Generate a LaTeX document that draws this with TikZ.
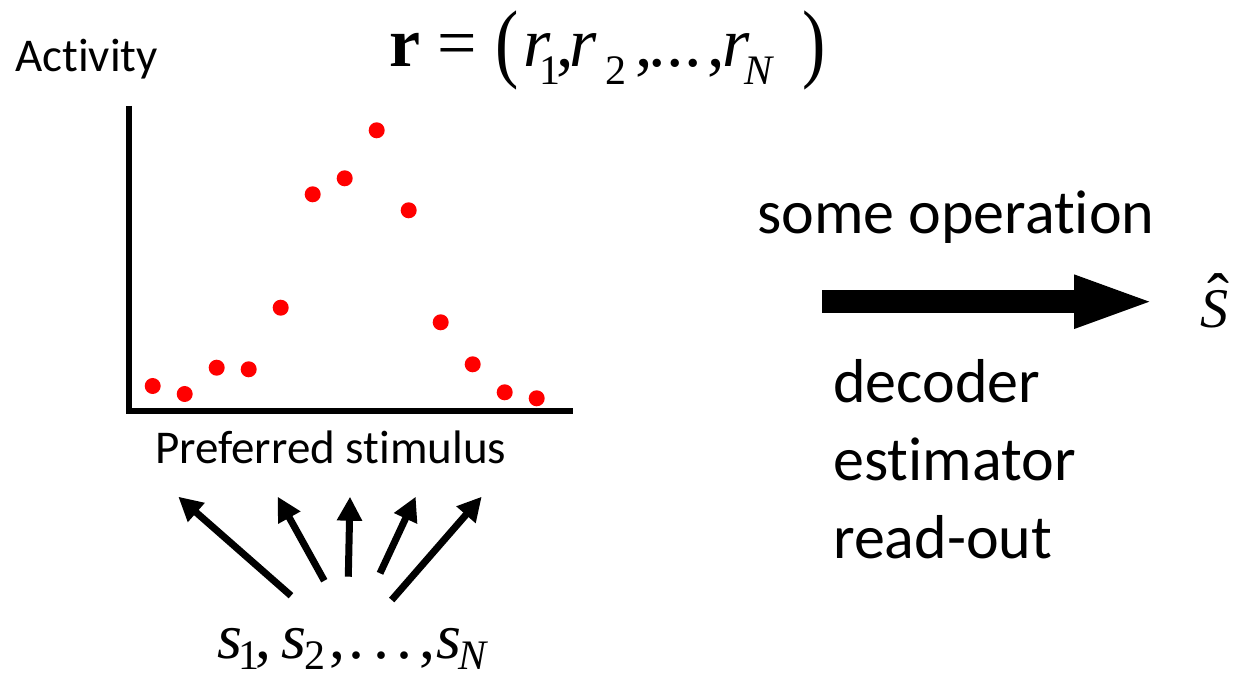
\documentclass[tikz,border=0pt]{standalone}
\usepackage{fontspec}
\usepackage{graphicx}
\setmainfont{Carlito}[Ligatures={NoCommon,NoContextual}]
\newfontfamily\tms{Liberation Serif}
\usetikzlibrary{arrows.meta}
\newcommand\pg[2]{\rlap{\hspace*{#1pt}#2}}
\newcommand\sbx[2]{\raisebox{-#1pt}{\fontsize{42}{42}\selectfont #2}}
\tikzset{
  lbl/.style={inner sep=0pt, anchor=base west, font=\fontsize{47}{47}\selectfont},
  big/.style={inner sep=0pt, anchor=base west, font=\fontsize{62}{62}\selectfont},
  formula/.style={inner sep=0pt, anchor=base west},
  dot/.style={circle, fill=red, inner sep=0pt, minimum size=16pt},
  axis/.style={line width=6pt, line join=miter},
  stimarrow/.style={line width=7pt, -{Triangle[length=24pt,width=24pt]}},
  bigarrow/.style={line width=23.3pt, -{Triangle[length=83pt,width=47pt]}}
}
\begin{document}
\begin{tikzpicture}[x=1pt,y=1pt]
\useasboundingbox (0,0) rectangle (1239,678);
% texts
\node[lbl] (act) at (15,606) {Activity};
\node[lbl] (pref) at (155,215) {Preferred stimulus};
\node[formula] (req) at (389,611) {\fontsize{70}{70}\selectfont\tms\pg{0}{\bfseries r}\pg{48}{=}\pg{106}{\raisebox{-5pt}{\scalebox{1}[1.25]{(}}}\pg{134}{\itshape r}\pg{150}{\sbx{18}{1}}\pg{167}{,}\pg{180}{\itshape r}\pg{216}{\sbx{18}{2}}\pg{246}{,}\pg{259}{.}\pg{277}{.}\pg{295}{.}\pg{318}{,}\pg{333}{\itshape r}\pg{355}{\sbx{18}{\itshape N}}\pg{413}{\raisebox{-5pt}{\scalebox{1}[1.25]{)}}}\hspace*{428pt}};
\node[formula] (seq) at (217,20) {\fontsize{64}{64}\selectfont\tms\pg{0}{\itshape s}\pg{21}{\sbx{11}{1}}\pg{38}{,}\pg{64}{\itshape s}\pg{87}{\sbx{11}{2}}\pg{112}{,}\pg{131}{.}\pg{156}{.}\pg{179}{.}\pg{202}{,}\pg{219}{\itshape s}\pg{241}{\sbx{11}{\itshape N}}\hspace*{264pt}};
\node[big] (op) at (757,444) {some operation};
\node[big] (dec) at (833,276) {decoder};
\node[big] (est) at (833,198) {estimator};
\node[big] (rdo) at (833,120) {read-out};
\node[formula] (shat) at (1200,350) {\fontsize{56}{56}\selectfont\tms\pg{0}{\itshape S}\pg{7}{\raisebox{8pt}{\fontsize{66}{66}\selectfont ˆ}}\hspace*{34pt}};
% axes
\coordinate (ytop) at (129,572);
\coordinate (orig) at (129,267);
\coordinate (xend) at (573,267);
\draw[axis] (ytop) -- (orig) -- (xend);
% dots
\foreach \i/\x/\y in {1/152.7/292,2/184.7/284,3/216.7/310.3,4/248.7/308.7,5/280.7/370.3,6/312.7/483.7,7/344.7/499.7,8/376.7/547.7,9/408.7/467.7,10/440.7/355.7,11/472.7/313.7,12/504.7/285.7,13/536.7/279.7}
  \node[dot] (d\i) at (\x,\y) {};
% stimulus arrows
\coordinate (t1) at (291,82.3);   \coordinate (h1) at (178.3,181.3);
\coordinate (t2) at (324.3,97.3); \coordinate (h2) at (277.7,181.3);
\coordinate (t3) at (348.3,101.3);\coordinate (h3) at (350,181.3);
\coordinate (t4) at (380,104.7);  \coordinate (h4) at (415.7,181.3);
\coordinate (t5) at (391.7,78);   \coordinate (h5) at (481.7,181.3);
\foreach \k in {1,...,5} \draw[stimarrow] (t\k) -- (h\k);
% big arrow
\coordinate (bs) at (822,376.3);
\coordinate (be) at (1157,376.3);
\draw[bigarrow] (bs) -- (be);
\end{tikzpicture}
\end{document}
